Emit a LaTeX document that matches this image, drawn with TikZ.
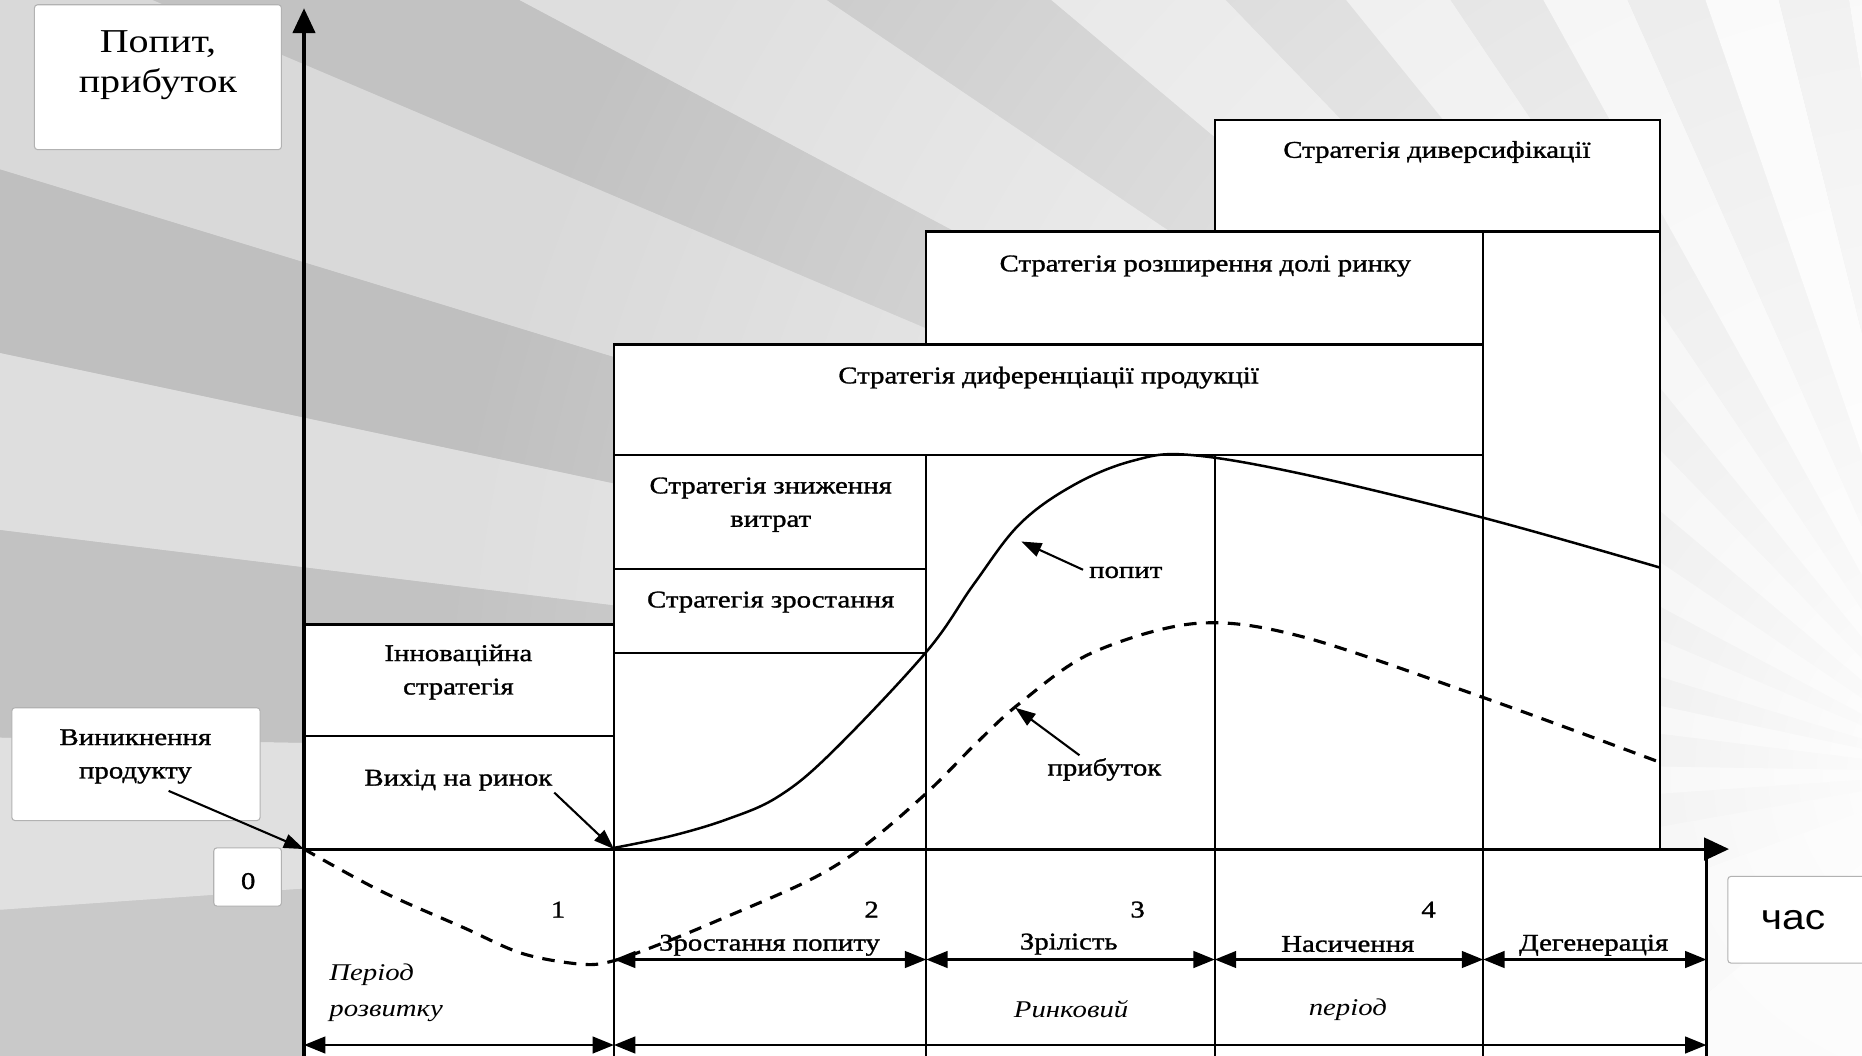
\documentclass[tikz,border=0pt]{standalone}
\usepackage{fontspec}
\setmainfont{Liberation Serif}[FakeStretch=1.2]
\newfontfamily\chartfont{Liberation Serif}[FakeStretch=1.2,FakeBold=1.2]
\newfontfamily\sansfont{Liberation Sans}[FakeStretch=1.15]
\usetikzlibrary{arrows.meta,fadings}

\tikzfading[name=glow, inner color=transparent!0, outer color=transparent!100]

\tikzset{
  gridline/.style={line width=1.1pt},
  axisline/.style={line width=1.5pt,-{Triangle[length=0.42cm,width=0.38cm]}},
  periodspan/.style={line width=1.2pt,{Triangle[length=0.36cm,width=0.28cm]}-{Triangle[length=0.36cm,width=0.28cm]}},
  pointer/.style={line width=1pt,-{Triangle[length=0.34cm,width=0.24cm]}},
  notebox/.style={draw=black!30,fill=white,line width=0.5pt,rounded corners=1.5pt},
  txt/.style={font=\chartfont\fontsize{11.5}{16}\selectfont,align=center,inner sep=0pt},
  itxt/.style={txt,font=\normalfont\fontsize{11.5}{17}\selectfont\itshape},
  demandline/.style={line width=1.2pt},
  profitline/.style={line width=1.5pt,dash pattern=on 6pt off 4.5pt},
}

\begin{document}
\begin{tikzpicture}[x=0.02cm,y=-0.02cm]
\useasboundingbox (0,0) rectangle (1568,889);

% background rays
\coordinate (C) at (1660,650);
\begin{scope}
  \clip (0,0) rectangle (1568,889);
  \fill[black!18] (0,0) rectangle (1568,889);
  \foreach \a/\b/\c in {100/140/6,140/160/10,160/170/15,170/176/21,176/181/12,
      181/187/24,187/192/13,192/197/25,197/203/15,203/208/24,208/214/13,
      214/220/22,220/226/11,226/231/19,231/236/9,236/241/16,241/246/6,
      246/251/13,251/256/3,256/261/10,261/280/4}
    \fill[black!\c] (C) -- +(\a:3000) -- +(\b:3000) -- cycle;
  \fill[white,path fading=glow] (C) circle (1300);
\end{scope}

% white field of the chart
\fill[white] (256,715) -- (256,526) -- (517,526) -- (517,290) -- (780,290) -- (780,195)
  -- (1023,195) -- (1023,101) -- (1398,101) -- (1398,715) -- cycle;
\fill[white] (256,715) rectangle (1437,889);

% strategy boxes
\draw[gridline] (256,526) -- (517,526) (256,620) -- (517,620);
\draw[gridline] (517,889) -- (517,290) -- (1249,290) (517,383) -- (1249,383);
\draw[gridline] (517,479) -- (780,479) (517,550) -- (780,550);
\draw[gridline] (780,290) -- (780,195) -- (1398,195) (780,383) -- (780,889);
\draw[gridline] (1023,195) -- (1023,101) -- (1398,101) -- (1398,715) (1023,383) -- (1023,889);
\draw[gridline] (1249,195) -- (1249,889) (1437,715) -- (1437,889);

% axes
\coordinate (O) at (256,715);
\coordinate (M) at (517,715);
\draw[axisline] (256,889) -- (256,7);
\draw[axisline] (O) -- (1456,715);

% curves
\draw[demandline] plot[smooth,tension=0.6] coordinates {(517,714) (565,704) (612,690)
  (655,671) (700,634) (780,549) (820,492) (859,441) (905,408) (954,388)
  (1001,383) (1096,399) (1249,436) (1398,478)};
\draw[profitline] plot[smooth,tension=0.55] coordinates {(256,715) (320,750) (390,781)
  (440,803) (490,812) (517,809) (556,795) (600,777) (680,742) (727,713) (780,668)
  (822,626) (859,592) (919,550) (1007,525) (1096,536) (1248,587) (1398,642)};
\coordinate (dem) at (860,456);
\coordinate (prof) at (855,596);

% strategies
\node[txt] (diver) at (1210,128) {Стратегія диверсифікації};
\node[txt] (rozsh) at (1015,224) {Стратегія розширення долі ринку};
\node[txt] (dyfer) at (883,318) {Стратегія диференціації продукції};
\node[txt] (znyzh) at (649,425) {Стратегія зниження\\витрат};
\node[txt] (zrost) at (649,507) {Стратегія зростання};
\node[txt] (innov) at (386,566) {Інноваційна\\стратегія};
\node[txt] (vyhid) at (386,657) {Вихід на ринок};
\node[txt] (popyt) at (948,482) {попит};
\node[txt] (prybutok) at (930,648) {прибуток};

% stages
\foreach \x/\n in {470/1,734/2,958/3,1203/4}
  \node[txt] (num\n) at (\x,766) {\n};
\node[txt] (growth) at (648,796) {Зростання попиту};
\node[txt] (mature) at (900,795) {Зрілість};
\node[txt] (satur) at (1135,795) {Насичення};
\node[txt] (degen) at (1342,796) {Дегенерація};
\foreach \a/\b in {517/780,780/1023,1023/1249,1249/1437}
  \draw[periodspan] (\a,808) -- (\b,808);
\draw[periodspan] (256,880) -- (517,880);
\draw[periodspan] (517,880) -- (1437,880);
\node[itxt,anchor=west,align=left] (rozv) at (277,836) {Період\\розвитку};
\node[itxt] (rynk) at (902,850) {Ринковий};
\node[itxt] (period) at (1135,850) {період};

% notes outside the chart
\draw[notebox] (29,4) rectangle (237,126);
\node[txt,font=\normalfont\fontsize{16}{19}\selectfont] (ylabel) at (133,55) {Попит,\\прибуток};
\draw[notebox] (10,596) rectangle (219,691);
\node[txt] (vynyk) at (114,637) {Виникнення\\продукту};
\draw[notebox] (180,714) rectangle (237,763);
\node[txt] (zero) at (209,742) {0};
\draw[notebox] (1455,738) rectangle (1580,811);
\node[txt,font=\sansfont\fontsize{17}{20}\selectfont] (xlabel) at (1510,775) {час};

% pointers
\coordinate (vtail) at (142,666);
\coordinate (ptail) at (909,636);
\draw[pointer] (vtail) -- (O);
\draw[pointer,shorten <=1pt] (vyhid.south east) -- (M);
\draw[pointer,shorten <=3pt] (popyt.west) -- (dem);
\draw[pointer] (ptail) -- (prof);
\end{tikzpicture}
\end{document}
